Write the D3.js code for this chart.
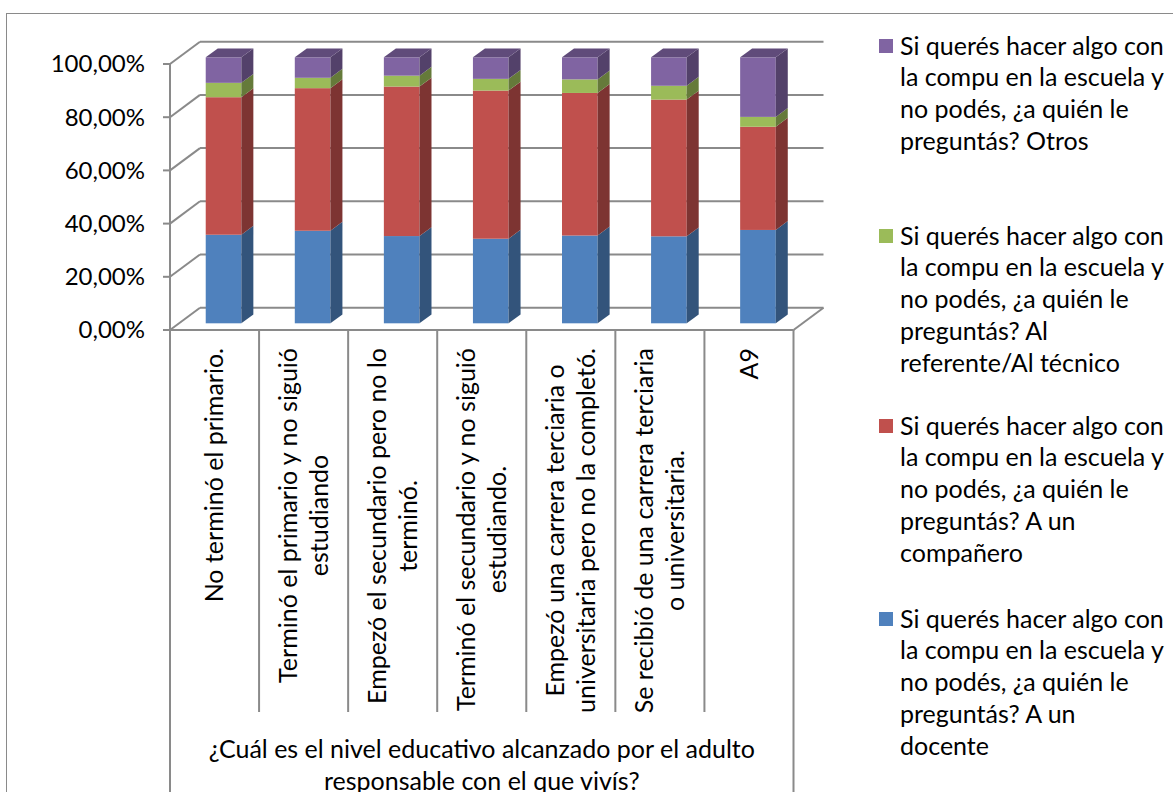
<!DOCTYPE html>
<html>
<head>
<meta charset="utf-8">
<script src="https://cdn.jsdelivr.net/npm/d3@7"></script>
<style>
  body { margin: 0; background: #fff; }
  text { font-family: Lato, "Noto Sans", sans-serif; fill: #000; }
</style>
</head>
<body>
<script>
// categories (x axis), each one split in the lines used in the picture
const categories = [
  ["No terminó el primario."],
  ["Terminó el primario y no siguió", "estudiando"],
  ["Empezó el secundario pero no lo", "terminó."],
  ["Terminó el secundario y no siguió", "estudiando."],
  ["Empezó una carrera terciaria o", "universitaria pero no la completó."],
  ["Se recibió de una carrera terciaria", "o universitaria."],
  ["A9"]
];
const axisTitle = ["¿Cuál es el nivel educativo alcanzado por el adulto", "responsable con el que vivís?"];

// series, bottom to top of the stack (percent)
const docente    = [33.3, 34.8, 32.8, 31.8, 33.0, 32.7, 35.1];
const companero  = [51.7, 53.6, 56.2, 55.7, 53.6, 51.4, 38.8];
const referente  = [5.4, 3.9, 4.1, 4.4, 5.1, 5.2, 3.7];
const otros      = [9.6, 7.7, 6.9, 8.1, 8.3, 10.7, 22.4];

const seriesKeys = ["docente", "companero", "referente", "otros"];
const seriesNames = [
  ["Si querés hacer algo con", "la compu en la escuela y", "no podés, ¿a quién le", "preguntás? A un", "docente"],
  ["Si querés hacer algo con", "la compu en la escuela y", "no podés, ¿a quién le", "preguntás? A un", "compañero"],
  ["Si querés hacer algo con", "la compu en la escuela y", "no podés, ¿a quién le", "preguntás? Al", "referente/Al técnico"],
  ["Si querés hacer algo con", "la compu en la escuela y", "no podés, ¿a quién le", "preguntás? Otros"]
];
const colors = ["#4F81BD", "#C0504D", "#9BBB59", "#8064A2"];
const yTicks = [0, 20, 40, 60, 80, 100];

(function(){
  const W = 1173, H = 792;
  const fontSize = 25;
  const grid = "#8a8a8a";

  // front plane of the box and depth offset of the back wall
  const x0 = 170, x1 = 793.5, yBottom = 330, yTop = 64;
  const depth = {dx: 30, dy: -22.3};
  const barFront = 0.3, barBack = 0.7;   // bars sit in the middle of the depth

  const svg = d3.select("body").append("svg")
      .attr("width", W)
      .attr("height", H);

  svg.append("rect")
      .attr("x", 6.5).attr("y", 13.5)
      .attr("width", 1300).attr("height", 900)
      .attr("fill", "#fff")
      .attr("stroke", grid)
      .attr("stroke-width", 1);

  const rows = categories.map((c, i) => ({
    i: i, docente: docente[i], companero: companero[i], referente: referente[i], otros: otros[i]
  }));
  const stacked = d3.stack().keys(seriesKeys)(rows);

  const x = d3.scaleBand()
      .domain(d3.range(categories.length))
      .range([x0, x1])
      .paddingInner(0.6)
      .paddingOuter(0.3);
  const step = x.step();

  const y = d3.scaleLinear()
      .domain([0, 100])
      .range([yBottom, yTop]);

  // project a point of the front plane back by t (0 = front, 1 = back wall)
  const px = (xx, t) => xx + depth.dx * t;
  const py = (yy, t) => yy + depth.dy * t;

  // --- walls and gridlines
  const g = svg.append("g")
      .attr("fill", "none")
      .attr("stroke", grid)
      .attr("stroke-width", 2);

  yTicks.forEach(v => {
    // side wall diagonal
    g.append("line")
        .attr("x1", x0).attr("y1", y(v))
        .attr("x2", px(x0, 1)).attr("y2", py(y(v), 1));
    // back wall line
    g.append("line")
        .attr("x1", px(x0, 1)).attr("y1", py(y(v), 1))
        .attr("x2", px(x1, 1)).attr("y2", py(y(v), 1));
    // tick
    g.append("line")
        .attr("x1", x0 - 7).attr("y1", y(v))
        .attr("x2", x0).attr("y2", y(v));
  });

  // floor right edge
  g.append("line")
      .attr("x1", x1).attr("y1", y(0))
      .attr("x2", px(x1, 1)).attr("y2", py(y(0), 1));
  // vertical axis
  g.append("line")
      .attr("x1", x0).attr("y1", y(100))
      .attr("x2", x0).attr("y2", y(0));

  svg.append("g")
      .attr("font-size", fontSize - 1)
      .attr("text-anchor", "end")
    .selectAll("text")
    .data(yTicks)
    .join("text")
      .attr("x", 145)
      .attr("y", d => y(d))
      .attr("dy", "0.35em")
      .text(d => d3.format(".2f")(d).replace(".", ",") + "%");

  // --- bars
  const bw = x.bandwidth();
  const sdx = depth.dx * (barBack - barFront), sdy = depth.dy * (barBack - barFront);
  const bars = svg.append("g");

  stacked.forEach((layer, si) => {
    const c = colors[si];
    const side = d3.color(c).darker(1.2).formatHex();
    const top = d3.color(c).darker(0.8).formatHex();
    layer.forEach((d, ci) => {
      const xl = px(x(ci), barFront);
      const xr = xl + bw;
      const yb = py(y(d[0]), barFront);
      const yt = py(y(d[1]), barFront);
      bars.append("rect")
          .attr("x", xl).attr("y", yt)
          .attr("width", bw).attr("height", yb - yt)
          .attr("fill", c);
      bars.append("path")
          .attr("d", `M${xr},${yt}L${xr + sdx},${yt + sdy}L${xr + sdx},${yb + sdy}L${xr},${yb}Z`)
          .attr("fill", side);
      if (si === stacked.length - 1) {
        bars.append("path")
            .attr("d", `M${xl},${yt}L${xl + sdx},${yt + sdy}L${xr + sdx},${yt + sdy}L${xr},${yt}Z`)
            .attr("fill", top);
      }
    });
  });

  // --- category axis as a table
  const tableBottom = 712;
  const cat = svg.append("g")
      .attr("stroke", grid)
      .attr("stroke-width", 2);
  cat.append("line")
      .attr("x1", x0).attr("y1", y(0))
      .attr("x2", x1).attr("y2", y(0));
  d3.range(categories.length + 1).forEach(i => {
    const xx = x0 + i * step;
    const end = (i === 0 || i === categories.length) ? H + 5 : tableBottom;
    cat.append("line")
        .attr("x1", xx).attr("y1", y(0))
        .attr("x2", xx).attr("y2", end);
  });

  const lineH = 31.7;
  const labelTop = 348;
  categories.forEach((lines, i) => {
    const cx = x0 + (i + 0.5) * step;
    const grp = svg.append("g").attr("font-size", fontSize);
    const texts = lines.map(t => grp.append("text")
        .attr("text-anchor", "middle")
        .attr("dy", "0.35em")
        .text(t));
    const maxW = d3.max(texts, t => t.node().getComputedTextLength());
    const cy = labelTop + maxW / 2;
    texts.forEach((t, j) => {
      const off = (j - (lines.length - 1) / 2) * lineH;
      t.attr("transform", `translate(${cx + off},${cy}) rotate(-90)`);
    });
  });

  svg.append("g")
      .attr("font-size", fontSize)
      .attr("text-anchor", "middle")
    .selectAll("text")
    .data(axisTitle)
    .join("text")
      .attr("x", (x0 + x1) / 2)
      .attr("y", (d, i) => 758 + i * lineH)
      .text(d => d);

  // --- legend (top entry = top of the stack)
  const legendTops = [39, 229, 419, 612];
  const legend = svg.append("g").attr("font-size", fontSize);
  seriesKeys.slice().reverse().forEach((k, j) => {
    const si = seriesKeys.length - 1 - j;
    const ty = legendTops[j];
    legend.append("rect")
        .attr("x", 879).attr("y", ty)
        .attr("width", 14).attr("height", 14)
        .attr("fill", colors[si]);
    legend.append("g")
      .selectAll("text")
      .data(seriesNames[si])
      .join("text")
        .attr("x", 900)
        .attr("y", (d, l) => ty + 7 + l * lineH)
        .attr("dy", "0.35em")
        .text(d => d);
  });
})();
</script>
</body>
</html>
